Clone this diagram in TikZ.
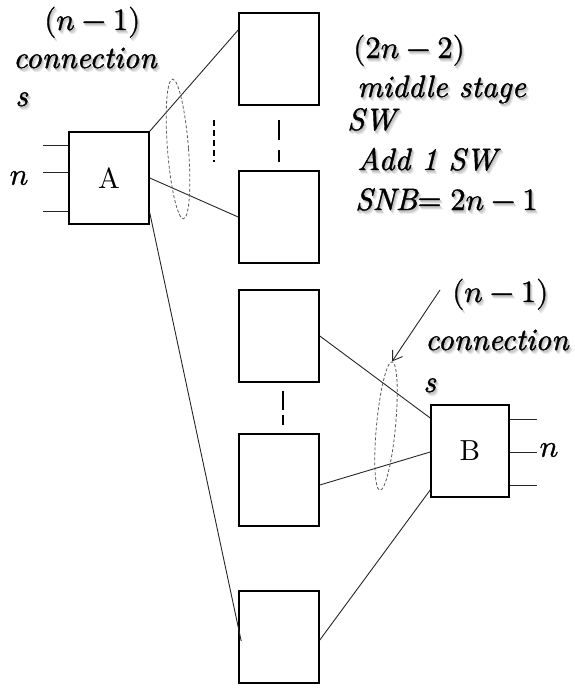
\documentclass[tikz,border=0pt]{standalone}
\usepackage{fontspec}
\usepackage{unicode-math}
\setmainfont{lmroman10-regular.otf}[ItalicFont=lmroman10-italic.otf,
  BoldFont=lmroman10-bold.otf, BoldItalicFont=lmroman10-bolditalic.otf,
  ItalicFeatures={FakeBold=1.2}]
\setmathfont{Latin Modern Math}[FakeBold=1]
\usetikzlibrary{arrows.meta,shapes.geometric}

% text with a soft grey drop shadow behind it
\newcommand\shadowed[1]{%
  \rlap{\kern2.6pt\raisebox{-3.6pt}{\color{black!9}#1}}%
  \rlap{\kern1.8pt\raisebox{-2.6pt}{\color{black!16}#1}}%
  \rlap{\kern1.0pt\raisebox{-1.6pt}{\color{black!24}#1}}%
  #1}

\begin{document}
\begin{tikzpicture}[x=1pt,y=-1pt,
  swbox/.style={draw, line width=1.6pt, minimum width=80pt, minimum height=92pt,
                inner sep=0pt, font=\fontsize{29}{34}\selectfont},
  link/.style={line width=0.9pt, black!85},
  stub/.style={line width=0.9pt, black!85},
  bundle/.style={draw, ellipse, dashed, dash pattern=on 3pt off 2pt,
                 line width=0.8pt, black!65, inner sep=0pt},
  lbl/.style={font=\fontsize{31}{37}\selectfont\itshape, inner sep=0pt, anchor=base west},
]
\useasboundingbox (0,0) rectangle (575,688);

% first-stage switch A and last-stage switch B
\node[swbox] (A) at (109,178) {A};
\node[swbox, minimum width=78pt] (B) at (470,451) {B};

% middle-stage switches
\node[swbox] (m1) at (279,59)  {};
\node[swbox] (m2) at (279,217) {};
\node[swbox] (m3) at (279,336) {};
\node[swbox] (m4) at (279,480) {};
\node[swbox] (m5) at (279,637) {};

% input lines of A
\foreach \o [count=\i] in {33,6,-33}{
  \coordinate (ain\i) at ([xshift=-25pt,yshift=\o pt]A.west);
  \draw[stub] (ain\i) -- ([yshift=\o pt]A.west);
}
\node[font=\fontsize{31}{36}\selectfont, inner sep=0pt] (nA) at (19,178) {$n$};

% output lines of B
\foreach \o [count=\i] in {32,-1,-34}{
  \coordinate (bout\i) at ([xshift=27pt,yshift=\o pt]B.east);
  \draw[stub] ([yshift=\o pt]B.east) -- (bout\i);
}
\node[font=\fontsize{31}{36}\selectfont, inner sep=0pt] (nB) at (549,450) {$n$};

% links from A to the middle stage
\draw[link] (A.north east) -- ([yshift=29pt]m1.west);
\draw[link] (A.east) -- (m2.west);
\draw[link] ([yshift=-35pt]A.east) -- ([xshift=3pt,yshift=-4pt]m5.west);

% links from the middle stage to B
\draw[link] (m3.east) -- ([yshift=33pt]B.west);
\draw[link] ([yshift=-5pt]m4.east) -- ([yshift=-1pt]B.west);
\draw[link] ([yshift=-3pt]m5.east) -- ([yshift=-39pt]B.west);

% "more switches" marks
\coordinate (d1a) at (279,120); \coordinate (d1b) at (279,162);
\draw[line width=1.6pt, dash pattern=on 20pt off 10pt] (d1a) -- (d1b);
\coordinate (d2a) at (214,120); \coordinate (d2b) at (214,162);
\draw[line width=1.6pt, dash pattern=on 6pt off 4pt] (d2a) -- (d2b);
\coordinate (d3a) at (283,391); \coordinate (d3b) at (283,425);
\draw[line width=1.6pt, dash pattern=on 19pt off 5pt] (d3a) -- (d3b);

% dashed bundles around the connection groups
\node[bundle, minimum width=21pt, minimum height=140pt, rotate=4.5] (bun1) at (178,149) {};
\node[bundle, minimum width=19pt, minimum height=129pt, rotate=-5.4] (bun2) at (386,426) {};

% labels
\node[lbl] (t1) at (44,30)  {\shadowed{$(n-1)$}};
\node[lbl] (t2) at (13,68)  {\shadowed{connection}};
\node[lbl] (t3) at (15,106) {\shadowed{s}};

\node[lbl] (r1) at (353,58)  {\shadowed{$(2n-2)$}};
\node[lbl] (r2) at (357,97)  {\shadowed{middle stage}};
\node[lbl] (r3) at (347,130) {\shadowed{SW}};
\node[lbl] (r4) at (357,170) {\shadowed{Add 1 SW}};
\node[lbl] (r5) at (355,210) {\shadowed{SNB$=2n-1$}};

\node[lbl] (b1) at (452,302) {\shadowed{$(n-1)$}};
\node[lbl] (b2) at (425,350) {\shadowed{connection}};
\node[lbl] (b3) at (423,392) {\shadowed{s}};

% pointer to the lower bundle
\coordinate (ptr) at (440,290);
\draw[link, -{Straight Barb[length=9pt,width=12pt]}] (ptr) -- (bun2.north);
\end{tikzpicture}
\end{document}
